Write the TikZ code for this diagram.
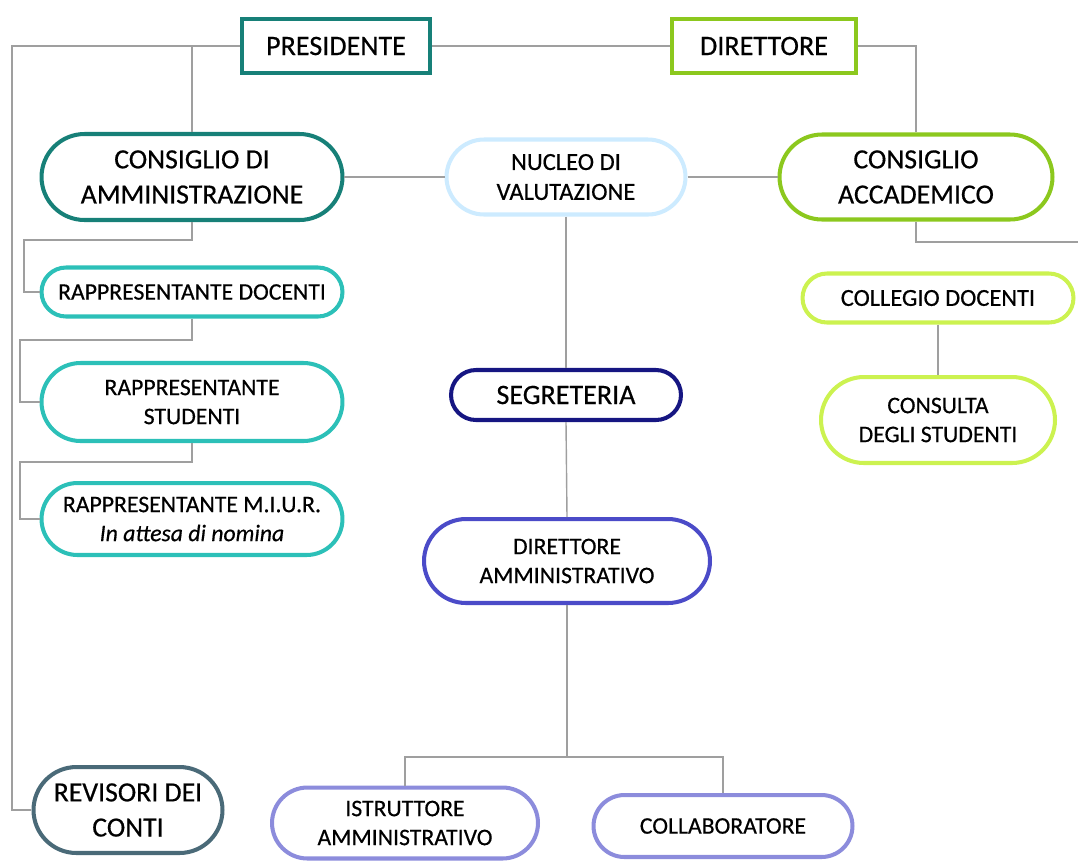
\documentclass[tikz,border=0pt]{standalone}
\usepackage{fontspec}
\setmainfont{Carlito}[FakeBold=0.5]
\usetikzlibrary{shapes.misc}
\definecolor{tealdark}{HTML}{178078}
\definecolor{limedark}{HTML}{8CC81E}
\definecolor{skylight}{HTML}{CDEBFF}
\definecolor{turquoise}{HTML}{2CC0B8}
\definecolor{limelight}{HTML}{CCF250}
\definecolor{navyblue}{HTML}{161682}
\definecolor{indigo}{HTML}{4B4BC8}
\definecolor{slate}{HTML}{4A6A78}
\definecolor{lavender}{HTML}{8C8CDC}

\begin{document}
\begin{tikzpicture}[x=0.02cm,y=-0.02cm,
    box/.style={draw,rectangle,line width=2.3pt,inner sep=0pt,align=center,font=\fontsize{16}{19}\selectfont},
    pill/.style={draw,rounded rectangle,line width=2.3pt,inner sep=0pt,align=center,font=\fontsize{13.5}{16.5}\selectfont},
    big/.style={font=\fontsize{15.8}{20}\selectfont},
    link/.style={draw=gray!75,line width=0.8pt}]

    \useasboundingbox (0,0) rectangle (1078,860);

    % top level
    \node[box,draw=tealdark,minimum width=3.76cm,minimum height=1.08cm] (pres) at (336,46) {PRESIDENTE};
    \node[box,draw=limedark,minimum width=3.68cm,minimum height=1.08cm] (dir) at (764,46) {DIRETTORE};

    % councils
    \node[pill,big,draw=tealdark,minimum width=6.02cm,minimum height=1.72cm] (cda) at (192,177) {CONSIGLIO DI\\AMMINISTRAZIONE};
    \node[pill,draw=skylight,font=\fontsize{14}{17}\selectfont,minimum width=4.78cm,minimum height=1.5cm] (nucleo) at (566,177) {NUCLEO DI\\VALUTAZIONE};
    \node[pill,big,draw=limedark,minimum width=5.46cm,minimum height=1.7cm] (ca) at (916,177) {CONSIGLIO\\ACCADEMICO};

    % left column
    \node[pill,draw=turquoise,minimum width=6.02cm,minimum height=0.98cm] (rdoc) at (192,292) {RAPPRESENTANTE DOCENTI};
    \node[pill,draw=turquoise,minimum width=6.02cm,minimum height=1.56cm] (rstud) at (192,402) {RAPPRESENTANTE\\STUDENTI};
    \node[pill,draw=turquoise,minimum width=6.02cm,minimum height=1.44cm] (rmiur) at (192,519) {RAPPRESENTANTE M.I.U.R.\\\textit{In attesa di nomina}};

    % right column
    \node[pill,draw=limelight,font=\fontsize{13.9}{16.5}\selectfont,minimum width=5.42cm,minimum height=0.98cm] (collegio) at (938,298) {COLLEGIO DOCENTI};
    \node[pill,draw=limelight,minimum width=4.68cm,minimum height=1.72cm] (consulta) at (938,420) {CONSULTA\\DEGLI STUDENTI};

    % middle column
    \node[pill,draw=navyblue,font=\fontsize{16}{19}\selectfont,minimum width=4.6cm,minimum height=1.0cm] (segr) at (566,395) {SEGRETERIA};
    \node[pill,draw=indigo,minimum width=5.72cm,minimum height=1.68cm] (diramm) at (567,561) {DIRETTORE\\AMMINISTRATIVO};

    % bottom row
    \node[pill,big,draw=slate,minimum width=3.78cm,minimum height=1.72cm] (rev) at (128,810) {REVISORI DEI\\CONTI};
    \node[pill,draw=lavender,minimum width=5.32cm,minimum height=1.42cm] (istr) at (405,823) {ISTRUTTORE\\AMMINISTRATIVO};
    \node[pill,draw=lavender,minimum width=5.18cm,minimum height=1.24cm] (coll) at (723,826) {COLLABORATORE};

    \coordinate (split) at (567,757);
    \coordinate (edge) at (1078,242);

    % connectors
    \draw[link] (pres.west) -- (12,46) |- (rev.west);
    \draw[link] (cda.north) -- (cda.north |- pres.west);
    \draw[link] (pres.east) -- (dir.west);
    \draw[link] (dir.east) -| (ca.north);
    \draw[link] (cda.east) -- (nucleo.west);
    \draw[link] (nucleo.east) -- (ca.west);
    \draw[link] (cda.south) |- (24,240) |- (rdoc.west);
    \draw[link] (rdoc.south) |- (20,340) |- (rstud.west);
    \draw[link] (rstud.south) |- (20,462) |- (rmiur.west);
    \draw[link] (ca.south) |- (edge);
    \draw[link] (collegio.south) -- (consulta.north);
    \draw[link] (nucleo.south) -- (segr.north);
    \draw[link] (segr.south) -- (diramm.north);
    \draw[link] (diramm.south) -- (split);
    \draw[link] (istr.north) |- (split) -| (coll.north);

\end{tikzpicture}
\end{document}
